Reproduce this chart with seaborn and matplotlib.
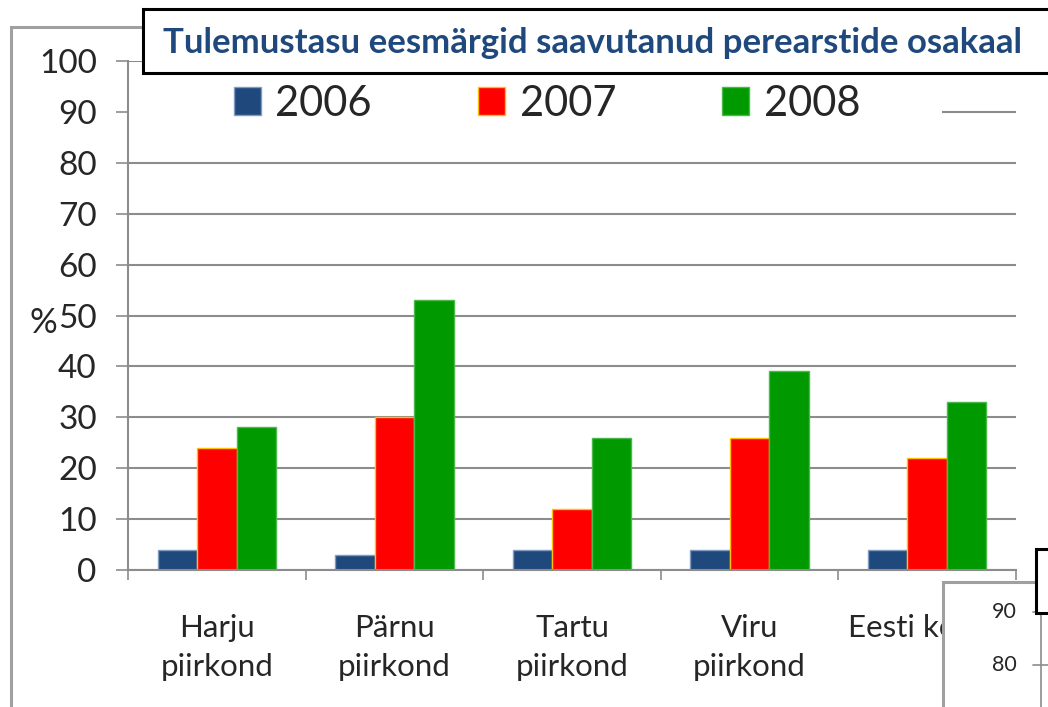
import pandas as pd
import matplotlib.pyplot as plt
import seaborn as sns
from matplotlib.patches import Rectangle
from matplotlib.lines import Line2D

# chart data
regions = ["Harju\npiirkond", "Pärnu\npiirkond", "Tartu\npiirkond", "Viru\npiirkond", "Eesti kokku"]
years = ["2006", "2007", "2008"]
v2006 = [4, 3, 4, 4, 4]
v2007 = [24, 30, 12, 26, 22]
v2008 = [28, 53, 26, 39, 33]
yticks = [0, 10, 20, 30, 40, 50, 60, 70, 80, 90, 100]
title = "Tulemustasu eesmärgid saavutanud perearstide osakaal"

colors = {"2006": "#1F497D", "2007": "#FF0000", "2008": "#009900"}
edges = {"2006": "#7f9cc0", "2007": "#FFC000", "2008": "#4cb84c"}

df = pd.DataFrame({
    "region": regions * 3,
    "year": [y for y in years for _ in regions],
    "value": v2006 + v2007 + v2008,
})

sns.set_style("white")
plt.rcParams["font.family"] = ["Lato", "DejaVu Sans"]

W, H = 1048, 707
fig = plt.figure(figsize=(W / 100, H / 100), dpi=100)


def fx(px):
    return px / W


def fy(py):
    return 1 - py / H


def box(x0, y0, x1, y1, **kw):
    r = Rectangle((fx(x0), fy(y1)), (x1 - x0) / W, (y1 - y0) / H,
                  transform=fig.transFigure, **kw)
    fig.add_artist(r)
    return r


ax = fig.add_axes([fx(128), fy(570), (1016 - 128) / W, (570 - 61) / H])
sns.barplot(data=df, x="region", y="value", hue="year", palette=colors,
            width=0.667, gap=0, saturation=1, legend=False, ax=ax)
for cont, yr in zip(ax.containers, years):
    for bar in cont:
        bar.set_edgecolor(edges[yr])
        bar.set_linewidth(1.0)

gray = "#8c8c8c"
ax.set_ylim(0, 100)
ax.set_xlim(-0.5, len(regions) - 0.5)
ax.set_yticks(yticks)
ax.set_xlabel("")
ax.set_ylabel("")
ax.set_axisbelow(True)
ax.yaxis.grid(True, color=gray, lw=1.5)
for s in ["top", "right"]:
    ax.spines[s].set_visible(False)
for s in ["left", "bottom"]:
    ax.spines[s].set_color(gray)
    ax.spines[s].set_linewidth(1.5)
ax.tick_params(axis="y", length=8.5, width=1.2, color=gray, pad=14,
               labelsize=24, left=True)
ax.tick_params(axis="x", which="major", length=0, pad=32, labelsize=22.5)
ax.set_xticks([i - 0.5 for i in range(len(regions) + 1)], minor=True)
ax.tick_params(axis="x", which="minor", length=7.5, width=1.2, color=gray,
               bottom=True)
for lab in ax.get_xticklabels():
    lab.set_verticalalignment("top")
    lab.set_linespacing(1.45)

# white legend area over the 90 gridline
ax.add_patch(Rectangle((0, 85), (942 - 128) / 888, 14,
                       transform=ax.get_yaxis_transform(), facecolor="white",
                       edgecolor="none", zorder=1))

handles = [Rectangle((0, 0), 1, 1, facecolor=colors[y], edgecolor=edges[y])
           for y in years]
fig.legend(handles, years, ncol=3, frameon=False, fontsize=30,
           handlelength=0.65, handleheight=0.65, handletextpad=0.35,
           columnspacing=2.55, loc="center",
           bbox_to_anchor=(fx(547), fy(104)))

fig.text(fx(43), fy(323), "%", fontsize=25, ha="center", va="center")

# outer chart border
box(11, 27, 1300, 900, fill=False, edgecolor="#a0a0a0", lw=2.2, zorder=2)

# title box
box(143, 9, 1300, 73, facecolor="white", edgecolor="black", lw=2.2, zorder=3)
fig.text(fx(163), fy(43), title, fontsize=25, fontweight="bold",
         color="#1F497D", ha="left", va="center", zorder=4)

# corner of the next chart overlapping at the bottom right
box(943, 582, 1300, 900, facecolor="white", edgecolor="#a0a0a0", lw=2.2, zorder=5)
for val, py in [("90", 612), ("80", 665)]:
    fig.text(fx(1017), fy(py), val, fontsize=15.5, ha="right", va="center", zorder=6)
    fig.add_artist(Line2D([fx(1033), fx(1048)], [fy(py), fy(py)], color=gray,
                          lw=1.2, transform=fig.transFigure, zorder=6))
fig.add_artist(Line2D([fx(1041), fx(1041)], [fy(612), fy(720)], color=gray,
                      lw=1.2, transform=fig.transFigure, zorder=6))
box(1036, 549, 1300, 613, facecolor="white", edgecolor="black", lw=2.2, zorder=7)

fig.savefig("out.png", dpi=100)
